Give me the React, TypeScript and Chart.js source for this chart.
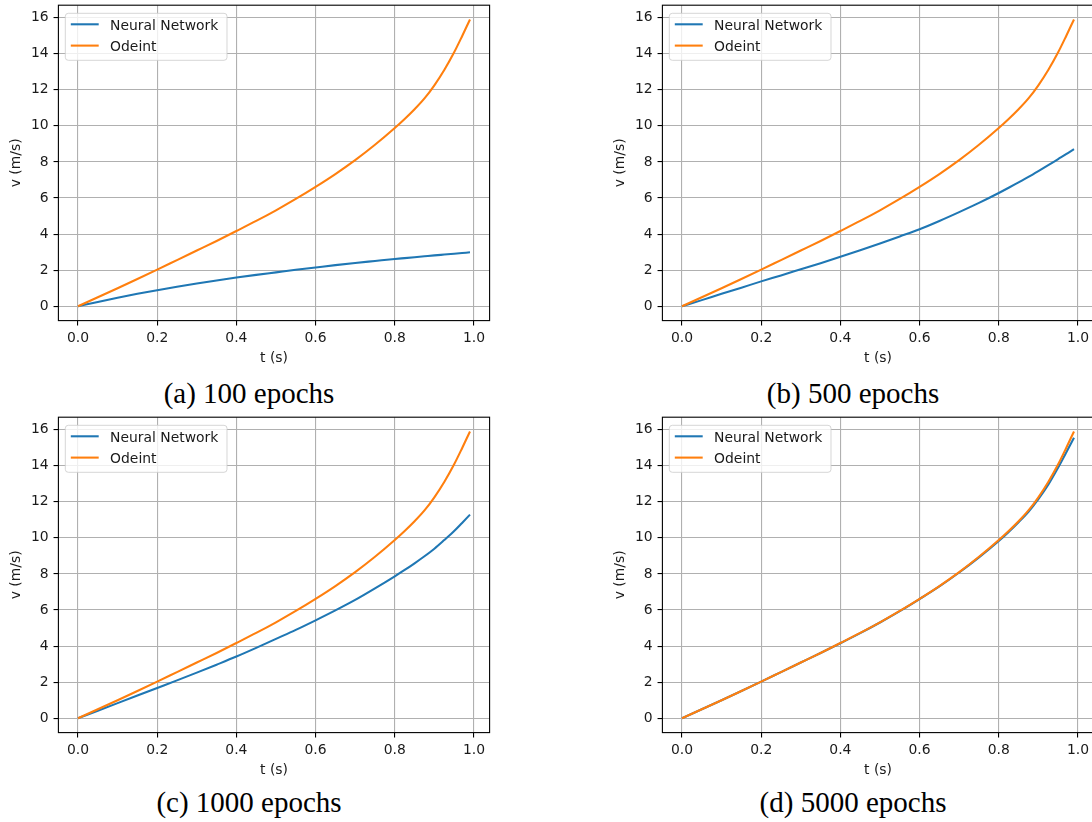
import React, { useEffect, useRef } from 'react';
import { Chart, registerables } from 'chart.js';

Chart.register(...registerables);

// ---- data ----
const tValues = [0, 0.05, 0.1, 0.15, 0.2, 0.25, 0.3, 0.35, 0.4, 0.45, 0.5, 0.55, 0.6, 0.65, 0.7, 0.75, 0.8, 0.825, 0.85, 0.875, 0.9, 0.925, 0.95, 0.97, 0.99];
const odeint = [0, 0.5, 1.0, 1.51, 2.03, 2.56, 3.09, 3.62, 4.17, 4.73, 5.32, 5.95, 6.62, 7.33, 8.1, 8.95, 9.88, 10.38, 10.92, 11.52, 12.25, 13.1, 14.08, 14.97, 15.9];
const nn100 = [0, 0.24, 0.47, 0.69, 0.89, 1.08, 1.26, 1.43, 1.59, 1.74, 1.88, 2.02, 2.15, 2.28, 2.4, 2.51, 2.62, 2.67, 2.72, 2.77, 2.82, 2.865, 2.91, 2.95, 2.99];
const nn500 = [0, 0.34, 0.69, 1.03, 1.38, 1.71, 2.05, 2.39, 2.74, 3.1, 3.48, 3.87, 4.27, 4.73, 5.22, 5.73, 6.28, 6.57, 6.87, 7.17, 7.49, 7.82, 8.16, 8.43, 8.71];
const nn1000 = [0, 0.42, 0.84, 1.26, 1.68, 2.1, 2.53, 2.97, 3.42, 3.9, 4.4, 4.9, 5.43, 5.98, 6.56, 7.2, 7.87, 8.22, 8.59, 8.98, 9.4, 9.88, 10.38, 10.83, 11.29];
const nn5000 = [0, 0.5, 1.0, 1.51, 2.03, 2.56, 3.09, 3.62, 4.16, 4.72, 5.31, 5.94, 6.61, 7.31, 8.08, 8.92, 9.83, 10.33, 10.87, 11.45, 12.15, 12.95, 13.9, 14.72, 15.55];

const seriesLabels = ['Neural Network', 'Odeint'];
const captions = ['(a) 100 epochs', '(b) 500 epochs', '(c) 1000 epochs', '(d) 5000 epochs'];
const xTickValues = [0, 0.2, 0.4, 0.6, 0.8, 1.0];
const xTickLabels = ['0.0', '0.2', '0.4', '0.6', '0.8', '1.0'];
const yTickValues = [0, 2, 4, 6, 8, 10, 12, 14, 16];
const yTickLabels = ['0', '2', '4', '6', '8', '10', '12', '14', '16'];
const xTitle = 't (s)';
const yTitle = 'v (m/s)';
const xRange = [-0.0495, 1.0395];
const yRange = [-0.795, 16.69];

const FONT = "'DejaVu Sans', sans-serif";
const TXT = '#1a1a1a';
const CW = 546;
const CH = 372;

const framePlugin = {
  id: 'mplFrame',
  afterDatasetsDraw(chart: any) {
    const { ctx, chartArea: a } = chart;
    ctx.save();
    // spines
    ctx.strokeStyle = '#000';
    ctx.lineWidth = 1.1;
    ctx.strokeRect(a.left, a.top, a.right - a.left, a.bottom - a.top);
    // legend
    const bx = a.left + 6.9;
    const by = a.top + 8.1;
    const bw = 161.7;
    const bh = 47;
    ctx.beginPath();
    (ctx as any).roundRect(bx, by, bw, bh, 3);
    ctx.fillStyle = 'rgba(255,255,255,0.8)';
    ctx.fill();
    ctx.strokeStyle = 'rgba(204,204,204,0.8)';
    ctx.lineWidth = 1;
    ctx.stroke();
    chart.data.datasets.forEach((ds: any, i: number) => {
      const cy = by + 11 + i * 21.3;
      ctx.beginPath();
      ctx.moveTo(bx + 5.5, cy);
      ctx.lineTo(bx + 33.4, cy);
      ctx.strokeStyle = ds.borderColor;
      ctx.lineWidth = 2.08;
      ctx.stroke();
      ctx.fillStyle = TXT;
      ctx.font = `13.9px ${FONT}`;
      ctx.textAlign = 'left';
      ctx.textBaseline = 'alphabetic';
      ctx.fillText(ds.label, bx + 44.8, cy + 5.8);
    });
    ctx.restore();
  },
};

function Panel({ nn, left, top }: { nn: number[]; left: number; top: number }) {
  const ref = useRef<HTMLCanvasElement>(null);
  useEffect(() => {
    const chart = new Chart(ref.current as HTMLCanvasElement, {
      type: 'line',
      data: {
        datasets: [
          {
            label: seriesLabels[0],
            data: tValues.map((t, i) => ({ x: t, y: nn[i] })),
            borderColor: '#1f77b4',
            backgroundColor: '#1f77b4',
            order: 1,
          },
          {
            label: seriesLabels[1],
            data: tValues.map((t, i) => ({ x: t, y: odeint[i] })),
            borderColor: '#ff7f0e',
            backgroundColor: '#ff7f0e',
            order: 0,
          },
        ],
      },
      options: {
        responsive: false,
        animation: false,
        devicePixelRatio: 1,
        layout: { padding: { left: 0, top: 5.2, right: CW - 489.6, bottom: 0 } },
        plugins: { legend: { display: false }, tooltip: { enabled: false } },
        elements: {
          point: { radius: 0 },
          line: { borderWidth: 2.08, cubicInterpolationMode: 'monotone', fill: false },
        },
        scales: {
          x: {
            type: 'linear',
            min: xRange[0],
            max: xRange[1],
            afterBuildTicks: (s: any) => {
              s.ticks = xTickValues.map((v) => ({ value: v }));
            },
            afterFit: (s: any) => {
              s.height = CH - 320.6;
              s.paddingLeft = 0;
              s.paddingRight = 0;
            },
            ticks: {
              autoSkip: false,
              maxRotation: 0,
              minRotation: 0,
              padding: 4.8,
              color: TXT,
              font: { family: FONT, size: 13.9 },
              callback: (_v: any, i: number) => xTickLabels[i],
            },
            grid: { color: '#b0b0b0', lineWidth: 1.1, tickColor: '#000', tickLength: 4.86, tickWidth: 1.1 },
            border: { display: false },
            title: {
              display: true,
              text: xTitle,
              color: TXT,
              font: { family: FONT, size: 13.9 },
              padding: { top: 0, bottom: 5.5 },
            },
          },
          y: {
            type: 'linear',
            min: yRange[0],
            max: yRange[1],
            afterBuildTicks: (s: any) => {
              s.ticks = yTickValues.map((v) => ({ value: v }));
            },
            afterFit: (s: any) => {
              s.width = 58.4;
              s.paddingTop = 0;
              s.paddingBottom = 0;
            },
            ticks: {
              autoSkip: false,
              padding: 4.86,
              color: TXT,
              font: { family: FONT, size: 13.9 },
              callback: (_v: any, i: number) => yTickLabels[i],
            },
            grid: { color: '#b0b0b0', lineWidth: 1.1, tickColor: '#000', tickLength: 4.86, tickWidth: 1.1 },
            border: { display: false },
            title: {
              display: true,
              text: yTitle,
              color: TXT,
              font: { family: FONT, size: 13.9 },
              padding: { top: 8, bottom: 0 },
            },
          },
        },
      } as any,
      plugins: [framePlugin],
    });
    return () => chart.destroy();
  }, [nn]);
  return (
    <canvas
      ref={ref}
      width={CW}
      height={CH}
      style={{ position: 'absolute', left, top, width: CW, height: CH, display: 'block' }}
    />
  );
}

function Caption({ text, cx, baseline }: { text: string; cx: number; baseline: number }) {
  return (
    <div
      style={{
        position: 'absolute',
        left: cx - 250,
        top: baseline - 24.2,
        width: 500,
        textAlign: 'center',
        fontFamily: "'Liberation Serif', 'Times New Roman', serif",
        fontSize: 29,
        lineHeight: '29px',
        color: '#000',
        whiteSpace: 'nowrap',
      }}
    >
      {text}
    </div>
  );
}

export default function App() {
  return (
    <div
      style={{
        position: 'absolute',
        left: 0,
        top: 0,
        width: 1092,
        height: 822,
        overflow: 'hidden',
        background: '#fff',
      }}
    >
      <Panel nn={nn100} left={0} top={0} />
      <Panel nn={nn500} left={604} top={0} />
      <Panel nn={nn1000} left={0} top={412} />
      <Panel nn={nn5000} left={604} top={412} />
      <Caption text={captions[0]} cx={249} baseline={402.7} />
      <Caption text={captions[1]} cx={853} baseline={402.7} />
      <Caption text={captions[2]} cx={249} baseline={812.5} />
      <Caption text={captions[3]} cx={853} baseline={812.5} />
    </div>
  );
}
